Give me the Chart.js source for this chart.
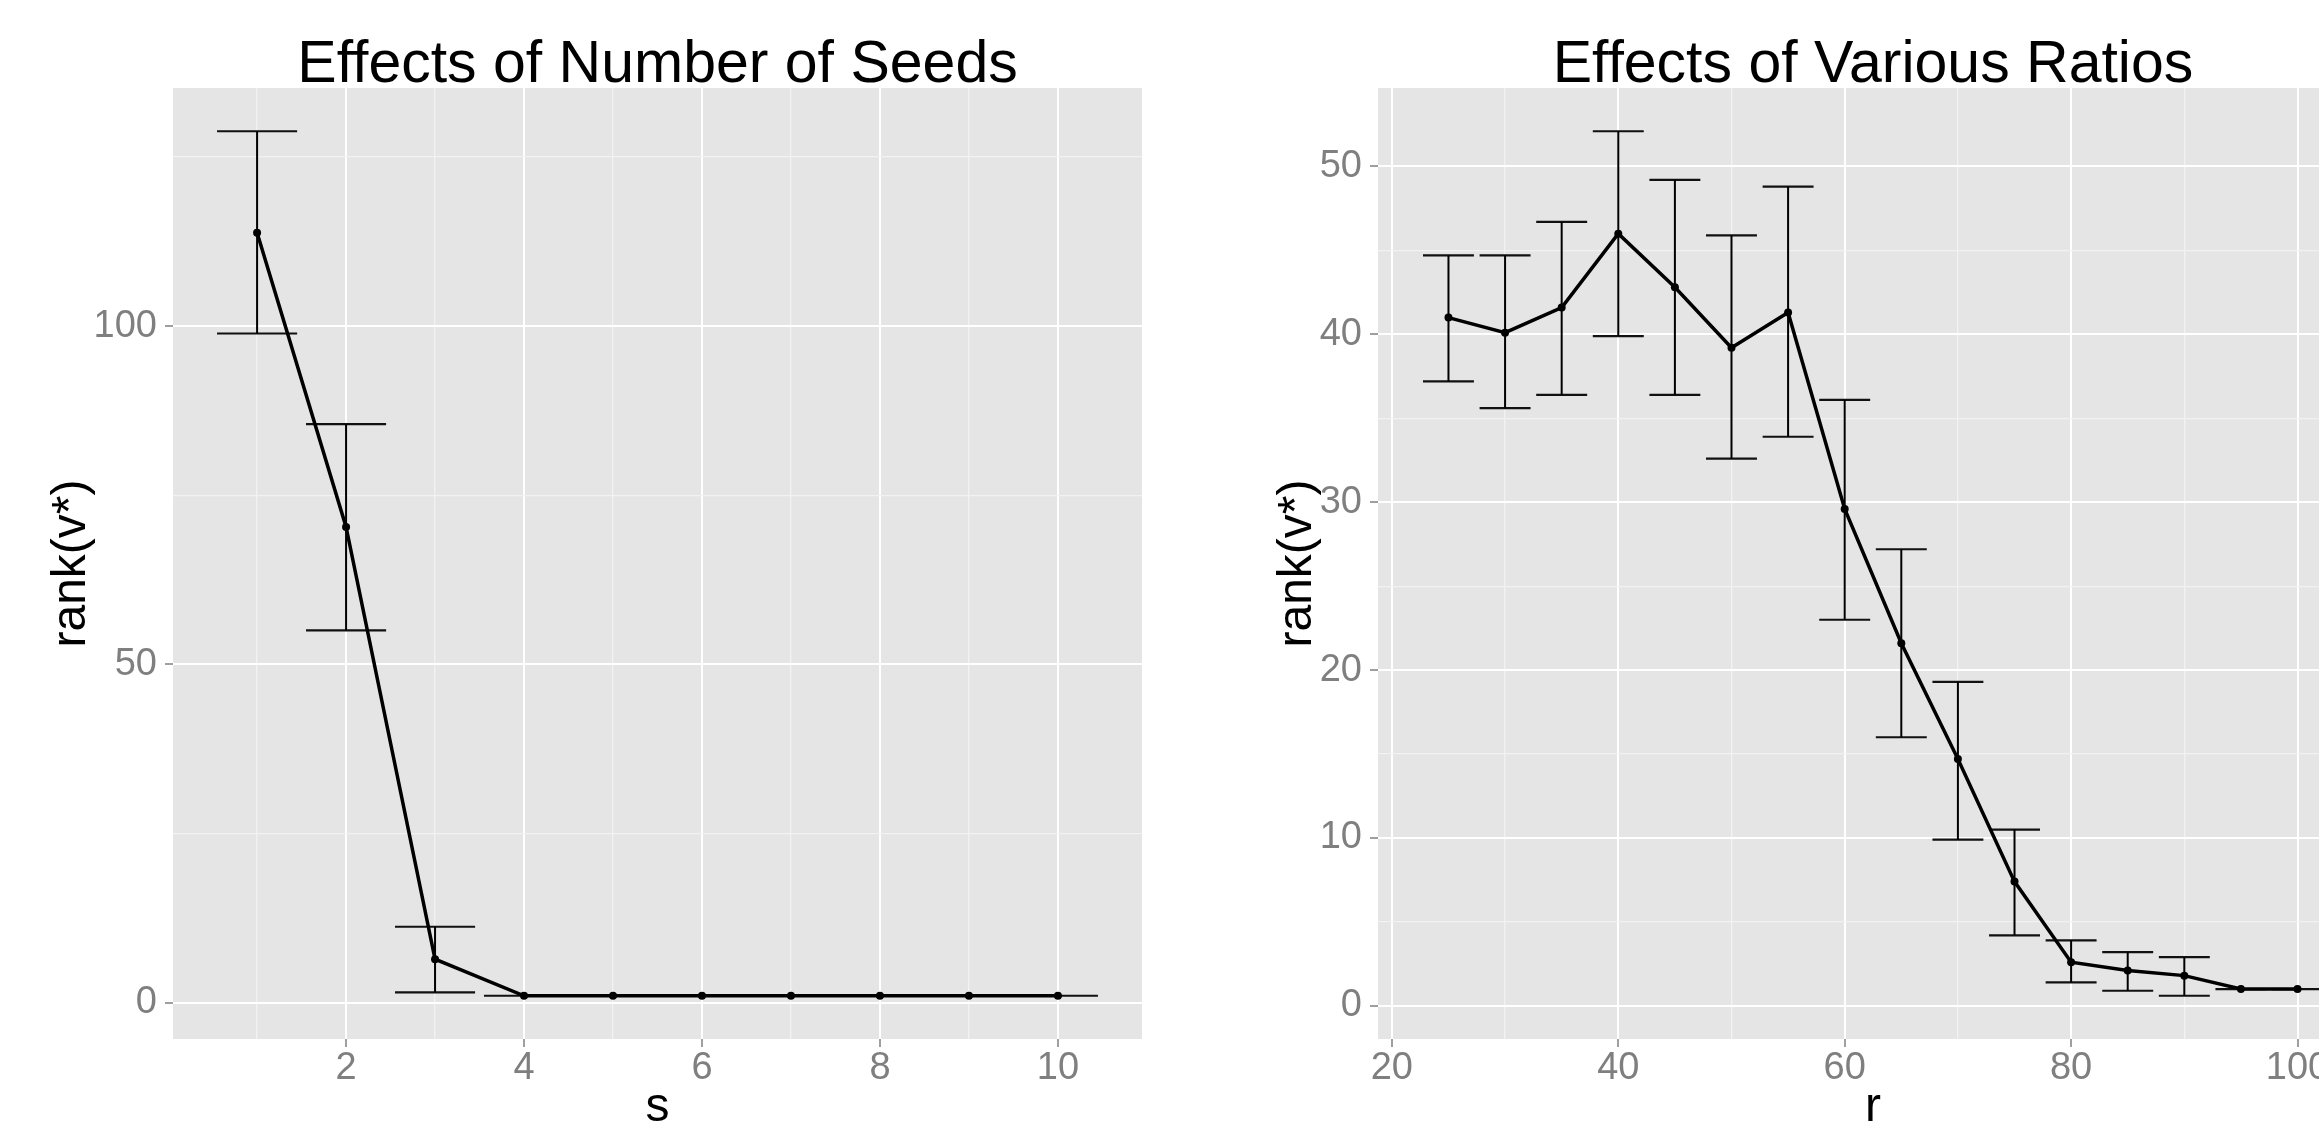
<!DOCTYPE html>
<html>
<head>
<meta charset="utf-8">
<title>Effects of seeds and ratios</title>
<script src="https://cdn.jsdelivr.net/npm/chart.js@4.4.1/dist/chart.umd.min.js"></script>
<style>
  html, body { margin: 0; padding: 0; background: #fff; overflow: hidden; }
  canvas { position: absolute; top: 0; }
  #seedsChart { left: 0; }
  #ratiosChart { left: 1226px; }
</style>
</head>
<body>
<canvas id="seedsChart" width="1226" height="1125"></canvas>
<canvas id="ratiosChart" width="1226" height="1125"></canvas>
<script>
// left panel: number of seeds s
const seeds = [1, 2, 3, 4, 5, 6, 7, 8, 9, 10];
const seedRank = [113.8, 70.3, 6.4, 1, 1, 1, 1, 1, 1, 1];
const seedUpper = [128.8, 85.5, 11.2, 1, 1, 1, 1, 1, 1, 1];
const seedLower = [98.9, 55.0, 1.5, 1, 1, 1, 1, 1, 1, 1];

// right panel: ratio r
const ratios = [25, 30, 35, 40, 45, 50, 55, 60, 65, 70, 75, 80, 85, 90, 95, 100];
const ratioRank = [41.0, 40.1, 41.6, 46.0, 42.8, 39.2, 41.3, 29.6, 21.6, 14.7, 7.4, 2.6, 2.1, 1.8, 1, 1];
const ratioUpper = [44.7, 44.7, 46.7, 52.1, 49.2, 45.9, 48.8, 36.1, 27.2, 19.3, 10.5, 3.9, 3.2, 2.9, 1, 1];
const ratioLower = [37.2, 35.6, 36.4, 39.9, 36.4, 32.6, 33.9, 23.0, 16.0, 9.9, 4.2, 1.4, 0.9, 0.6, 1, 1];

// tick labels shown on each axis
const seedXTicks = [2, 4, 6, 8, 10];
const seedYTicks = [0, 50, 100];
const ratioXTicks = [20, 40, 60, 80, 100];
const ratioYTicks = [0, 10, 20, 30, 40, 50];

const FONT = "'Liberation Sans', Arial, sans-serif";
Chart.defaults.font.family = FONT;

// ggplot-like 5% expansion of a range
function expand(lo, hi) {
  const pad = (hi - lo) * 0.05;
  return [lo - pad, hi + pad];
}

function whiskers(xs, lo, hi) {
  const pts = [];
  xs.forEach((x, i) => pts.push({x, y: lo[i]}, {x, y: hi[i]}, {x, y: null}));
  return pts;
}

function caps(xs, lo, hi, half) {
  const pts = [];
  xs.forEach((x, i) => {
    pts.push({x: x - half, y: hi[i]}, {x: x + half, y: hi[i]}, {x, y: null});
    pts.push({x: x - half, y: lo[i]}, {x: x + half, y: lo[i]}, {x, y: null});
  });
  return pts;
}

function axis(range, step, majors, pad, fitSize, horizontal) {
  const isMajor = v => majors.includes(v);
  return {
    type: 'linear',
    min: range[0],
    max: range[1],
    border: { display: false },
    grid: {
      color: c => (c.tick && isMajor(c.tick.value)) ? '#ffffff' : '#f2f2f2',
      lineWidth: c => (c.tick && isMajor(c.tick.value)) ? 2 : 1.3,
      tickColor: c => (c.tick && isMajor(c.tick.value)) ? '#7f7f7f' : 'rgba(0,0,0,0)',
      tickWidth: 1.5,
      tickLength: 8,
    },
    ticks: {
      stepSize: step,
      autoSkip: false,
      maxTicksLimit: 100,
      maxRotation: 0,
      padding: pad,
      color: '#7f7f7f',
      font: { size: 38 },
      callback: v => isMajor(v) ? String(v) : '',
    },
    // one tick on every step inside the range (major = labelled, others minor lines)
    afterBuildTicks: s => {
      const ticks = [];
      for (let k = Math.ceil(s.min / step); k * step <= s.max; k++) {
        ticks.push({ value: Math.round(k * step * 1e6) / 1e6 });
      }
      s.ticks = ticks;
    },
    afterFit: s => { if (horizontal) s.height = fitSize; else s.width = fitSize; },
  };
}

const ggPanel = {
  id: 'ggPanel',
  beforeDraw(chart) {
    const {ctx, chartArea: a} = chart;
    ctx.save();
    ctx.fillStyle = '#e5e5e5';
    ctx.fillRect(a.left, a.top, a.right - a.left, a.bottom - a.top);
    ctx.restore();
  },
  afterDraw(chart, args, opts) {
    const {ctx, chartArea: a} = chart;
    const cx = (a.left + a.right) / 2;
    ctx.save();
    ctx.fillStyle = '#000';
    ctx.textAlign = 'center';
    ctx.textBaseline = 'alphabetic';
    ctx.font = '59px ' + FONT;
    ctx.fillText(opts.title, cx, 82);
    ctx.font = '48px ' + FONT;
    ctx.fillText(opts.xTitle, cx, 1121);
    ctx.translate(85, (a.top + a.bottom) / 2);
    ctx.rotate(-Math.PI / 2);
    ctx.fillText(opts.yTitle, 0, 0);
    ctx.restore();
  }
};

function makeChart(id, xs, mean, lo, hi, half, cfg) {
  const xRange = expand(xs[0] - half, xs[xs.length - 1] + half);
  const yRange = expand(Math.min(...lo), Math.max(...hi));
  return new Chart(document.getElementById(id), {
    type: 'line',
    data: {
      datasets: [
        {
          data: xs.map((x, i) => ({x, y: mean[i]})),
          borderColor: '#000',
          borderWidth: 3.5,
          pointRadius: 4,
          pointBackgroundColor: '#000',
          pointBorderWidth: 0,
          tension: 0,
        },
        {
          data: whiskers(xs, lo, hi),
          borderColor: '#000',
          borderWidth: 2,
          pointRadius: 0,
          spanGaps: false,
        },
        {
          data: caps(xs, lo, hi, half),
          borderColor: '#111',
          borderWidth: 2.2,
          pointRadius: 0,
          spanGaps: false,
        },
      ],
    },
    options: {
      responsive: false,
      animation: false,
      events: [],
      layout: { padding: { top: 88, right: 84, left: 0, bottom: 0 } },
      scales: {
        x: axis(xRange, cfg.xStep, cfg.xTicks, -1, 86, true),
        y: axis(yRange, cfg.yStep, cfg.yTicks, 8, cfg.yWidth, false),
      },
      plugins: {
        legend: { display: false },
        tooltip: { enabled: false },
        ggPanel: { title: cfg.title, xTitle: cfg.xTitle, yTitle: 'rank(v*)' },
      },
    },
    plugins: [ggPanel],
  });
}

makeChart('seedsChart', seeds, seedRank, seedLower, seedUpper, 0.45, {
  title: 'Effects of Number of Seeds', xTitle: 's',
  xStep: 1, xTicks: seedXTicks, yStep: 25, yTicks: seedYTicks, yWidth: 173,
});

makeChart('ratiosChart', ratios, ratioRank, ratioLower, ratioUpper, 2.25, {
  title: 'Effects of Various Ratios', xTitle: 'r',
  xStep: 10, xTicks: ratioXTicks, yStep: 5, yTicks: ratioYTicks, yWidth: 152,
});
</script>
</body>
</html>
